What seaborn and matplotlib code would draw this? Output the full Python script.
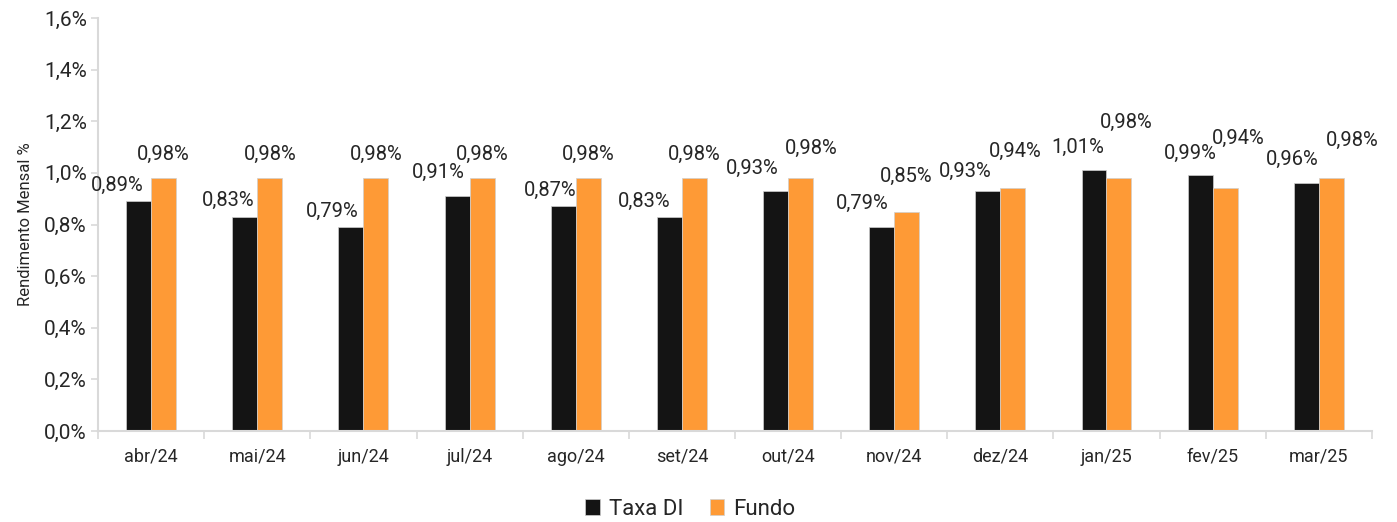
import pandas as pd
import matplotlib.pyplot as plt
import seaborn as sns
from matplotlib.ticker import FuncFormatter, FixedLocator

# data (rendimento mensal, %)
meses = ["abr/24", "mai/24", "jun/24", "jul/24", "ago/24", "set/24",
         "out/24", "nov/24", "dez/24", "jan/25", "fev/25", "mar/25"]
taxa_di = [0.89, 0.83, 0.79, 0.91, 0.87, 0.83, 0.93, 0.79, 0.93, 1.01, 0.99, 0.96]
fundo = [0.98, 0.98, 0.98, 0.98, 0.98, 0.98, 0.98, 0.85, 0.94, 0.98, 0.94, 0.98]
series_names = ["Taxa DI", "Fundo"]

# where the value labels sit (y in %, x offset in category units)
lbl_y_taxa = [0.95, 0.895, 0.852, 1.0, 0.934, 0.891, 1.019, 0.883, 1.007, 1.10, 1.077, 1.054]
lbl_y_fundo = [1.07, 1.07, 1.07, 1.07, 1.073, 1.073, 1.093, 0.988, 1.085, 1.197, 1.135, 1.124]
lbl_dx_taxa = [-0.2, -0.16, -0.18, -0.18, -0.12, -0.24, -0.22, -0.18, -0.21, -0.15, -0.09, -0.13]
lbl_dx_fundo = [0.0, 0.0, 0.0, 0.0, 0.0, 0.0, 0.1, 0.0, 0.02, 0.07, 0.12, 0.2]

df = pd.DataFrame({
    "mes": meses * 2,
    "valor": taxa_di + fundo,
    "serie": [series_names[0]] * len(meses) + [series_names[1]] * len(meses),
})

sns.set_style("white")
plt.rcParams["font.family"] = ["Roboto", "DejaVu Sans"]

fig = plt.figure(figsize=(13.97, 5.22), dpi=100)
ax = fig.add_axes([0.0702, 0.1743, 0.9118, 0.7912])

colors = {"Taxa DI": "#141414", "Fundo": "#FE9A36"}
sns.barplot(data=df, x="mes", y="valor", hue="serie", palette=colors, saturation=1,
            width=0.47, edgecolor="#cfcfcf", linewidth=0.5, ax=ax)

fmt = lambda v: f"{v:.2f}%".replace(".", ",")
for i in range(len(meses)):
    ax.text(i - 0.1175 + lbl_dx_taxa[i], lbl_y_taxa[i], fmt(taxa_di[i]),
            ha="center", va="center", fontsize=14.5, color="#262626")
    ax.text(i + 0.1175 + lbl_dx_fundo[i], lbl_y_fundo[i], fmt(fundo[i]),
            ha="center", va="center", fontsize=14.5, color="#262626")

ax.set_xlim(-0.5, len(meses) - 0.5)
ax.set_ylim(0, 1.6)
ax.set_yticks([0, 0.2, 0.4, 0.6, 0.8, 1.0, 1.2, 1.4, 1.6])
ax.yaxis.set_major_formatter(FuncFormatter(lambda v, p: f"{v:.1f}%".replace(".", ",")))
ax.xaxis.set_minor_locator(FixedLocator([k - 0.5 for k in range(len(meses) + 1)]))

for s in ["top", "right"]:
    ax.spines[s].set_visible(False)
for s in ["left", "bottom"]:
    ax.spines[s].set_color("#d9d9d9")
    ax.spines[s].set_linewidth(1.5)

ax.tick_params(axis="y", which="major", length=5, width=1.2, color="#d9d9d9",
               labelsize=15, labelcolor="#262626", left=True, pad=3)
ax.tick_params(axis="x", which="major", length=0, labelsize=13, labelcolor="#262626", pad=12)
ax.tick_params(axis="x", which="minor", length=6, width=1.2, color="#d9d9d9", bottom=True)

ax.set_xlabel("")
ax.set_ylabel("Rendimento Mensal %", fontsize=12, color="#262626", labelpad=8)

handles, labels = ax.get_legend_handles_labels()
ax.legend(handles, labels, loc="center", bbox_to_anchor=(0.465, -0.19), ncol=2,
          frameon=False, fontsize=16, handlelength=0.65, handleheight=0.75,
          handletextpad=0.4, columnspacing=1.2)

plt.savefig("out.png", dpi=100)
plt.close()
